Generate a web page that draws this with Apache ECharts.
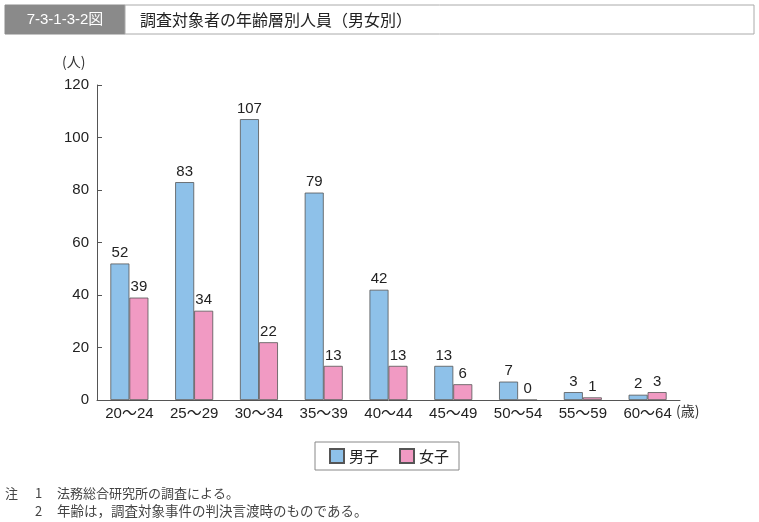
<!DOCTYPE html>
<html><head><meta charset="utf-8">
<script src="https://cdn.jsdelivr.net/npm/echarts@6/dist/echarts.min.js"></script>
<style>html,body{margin:0;padding:0;background:#fff}#c{width:759px;height:522px}</style>
</head><body><div id="c"></div>
<script>
const categories = ['20～24','25～29','30～34','35～39','40～44','45～49','50～54','55～59','60～64'];
const male = [52,83,107,79,42,13,7,3,2];
const female = [39,34,22,13,13,6,0,1,3];
const yTicks = [0,20,40,60,80,100,120];
const seriesNames = ['男子','女子'];

const chart = echarts.init(document.getElementById('c'));
const font = '"Liberation Sans", Arial, "Noto Sans CJK JP", sans-serif';
const jp = '"Noto Sans CJK JP",sans-serif';
const lbl = {show:true, position:'top', distance:3, color:'#222', fontSize:15, fontFamily:font};
const note = (t,x,y,fs) => ({type:'text', x:x, y:y, style:{text:t, fill:'#444', fontSize:fs||13, fontFamily:jp, verticalAlign:'middle'}});
chart.setOption({
  animation:false,
  textStyle:{fontFamily:font},
  graphic:[
    {type:'rect', shape:{x:5,y:5,width:120,height:29}, style:{fill:'#8a8a8a', stroke:'#8a8a8a'}},
    {type:'text', x:65, y:20, style:{text:'7-3-1-3-2図', fill:'#fff', fontSize:15, fontFamily:font, align:'center', verticalAlign:'middle'}},
    {type:'rect', shape:{x:125,y:5,width:629,height:29}, style:{fill:'#fff', stroke:'#aaa', lineWidth:1}},
    {type:'text', x:140, y:20, style:{text:'調査対象者の年齢層別人員（男女別）', fill:'#222', fontSize:16, fontFamily:jp, verticalAlign:'middle'}},
    {type:'text', x:62, y:62, style:{text:'(人)', fill:'#333', fontSize:14, fontFamily:jp, verticalAlign:'middle'}},
    {type:'text', x:676, y:411, style:{text:'(歳)', fill:'#333', fontSize:14, fontFamily:jp, verticalAlign:'middle'}},
    note('注',5,493), note('1',35,493), note('法務総合研究所の調査による。',57,493),
    note('2',35,511), note('年齢は，調査対象事件の判決言渡時のものである。',57,511,13.5)
  ],
  legend:{
    data:seriesNames, left:315, top:442, itemWidth:14, itemHeight:14, itemGap:20, icon:'rect',
    padding:[6,10,6,14], borderColor:'#888', borderWidth:1,
    textStyle:{fontSize:15, color:'#222', fontFamily:jp, lineHeight:14}
  },
  grid:{left:97, right:79, top:85, bottom:122, containLabel:false},
  xAxis:{
    type:'category', data:categories,
    axisLine:{lineStyle:{color:'#555'}}, axisTick:{show:false},
    axisLabel:{color:'#222', fontSize:15, margin:6, fontFamily:font}
  },
  yAxis:{
    type:'value', min:0, max:120, interval:20,
    axisLine:{show:true, lineStyle:{color:'#555'}},
    axisTick:{show:true, inside:true, length:5, lineStyle:{color:'#555'}},
    splitLine:{show:false},
    axisLabel:{color:'#222', fontSize:15, margin:8, fontFamily:font,
      formatter:v => yTicks.includes(v) ? String(v) : ''}
  },
  series:[
    {name:seriesNames[0], type:'bar', data:male, barWidth:19, barGap:'0%',
     itemStyle:{color:'#8ec1e9', borderColor:'#555', borderWidth:0.8}, label:lbl},
    {name:seriesNames[1], type:'bar', data:female, barWidth:19,
     itemStyle:{color:'#f19ac3', borderColor:'#555', borderWidth:0.8}, label:lbl}
  ]
});
</script></body></html>
